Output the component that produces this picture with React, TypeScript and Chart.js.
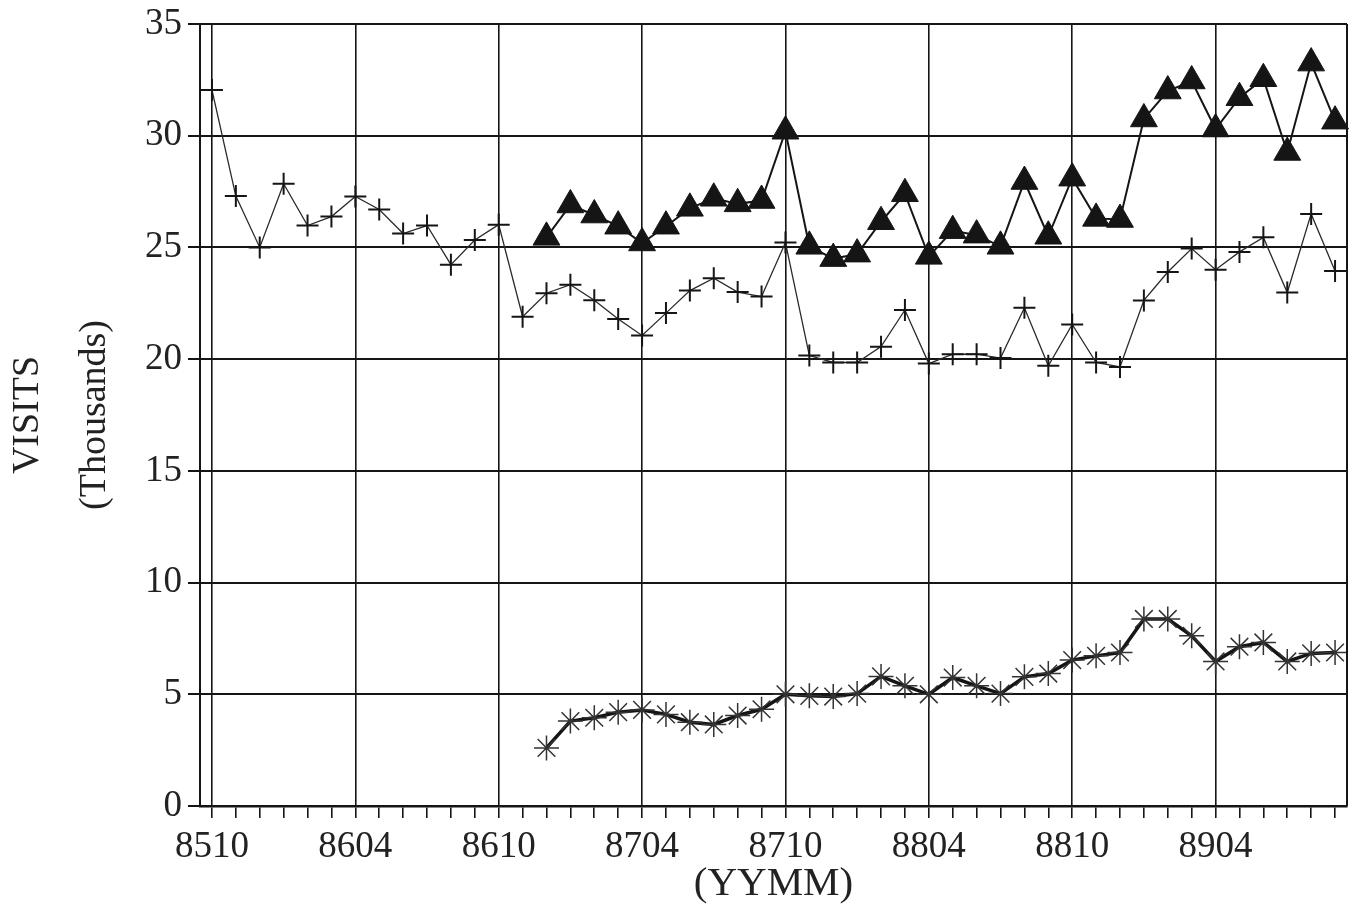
import React, { useEffect, useRef } from 'react';
import { Chart, registerables } from 'chart.js';

Chart.register(...registerables);

const months = [
  '8510', '8511', '8512', '8601', '8602', '8603', '8604', '8605', '8606', '8607', '8608', '8609',
  '8610', '8611', '8612', '8701', '8702', '8703', '8704', '8705', '8706', '8707', '8708', '8709',
  '8710', '8711', '8712', '8801', '8802', '8803', '8804', '8805', '8806', '8807', '8808', '8809',
  '8810', '8811', '8812', '8901', '8902', '8903', '8904', '8905', '8906', '8907', '8908', '8909',
];

const tickLabels = ['8510', '8604', '8610', '8704', '8710', '8804', '8810', '8904'];

const yTicks = [0, 5, 10, 15, 20, 25, 30, 35];

const plusSeries = [
  32.05, 27.3, 25.0, 27.85, 25.98, 26.38, 27.28, 26.7, 25.62, 25.98, 24.23, 25.33,
  26.02, 21.9, 22.95, 23.33, 22.64, 21.8, 21.06, 22.06, 23.07, 23.62, 23.0, 22.8,
  25.22, 20.16, 19.85, 19.85, 20.56, 22.2, 19.8, 20.22, 20.22, 20.05, 22.3, 19.7,
  21.55, 19.85, 19.65, 22.63, 23.9, 24.95, 24.0, 24.8, 25.45, 22.98, 26.5, 23.95,
];

const triangleSeries = [
  null, null, null, null, null, null, null, null, null, null, null, null,
  null, null, 25.45, 26.9, 26.45, 25.95, 25.2, 25.95, 26.75, 27.2, 26.95, 27.1,
  30.2, 25.05, 24.5, 24.7, 26.15, 27.4, 24.6, 25.75, 25.55, 25.05, 27.95, 25.5,
  28.1, 26.3, 26.25, 30.75, 32.0, 32.45, 30.3, 31.7, 32.55, 29.25, 33.25, 30.65,
];

const asteriskSeries = [
  null, null, null, null, null, null, null, null, null, null, null, null,
  null, null, 2.6, 3.8, 3.95, 4.2, 4.3, 4.1, 3.75, 3.65, 4.05, 4.33,
  5.0, 4.93, 4.9, 5.03, 5.8, 5.38, 5.0, 5.75, 5.38, 5.03, 5.78, 5.93,
  6.53, 6.72, 6.87, 8.37, 8.37, 7.62, 6.47, 7.13, 7.32, 6.47, 6.83, 6.87,
];

const FONT = "'Liberation Serif', 'Times New Roman', serif";
const INK = '#151515';

const framePlugin = {
  id: 'frame',
  afterDraw(chart: any) {
    const { ctx, chartArea } = chart;
    ctx.save();
    ctx.strokeStyle = INK;
    ctx.lineWidth = 2;
    ctx.beginPath();
    ctx.moveTo(chartArea.right, chartArea.top);
    ctx.lineTo(chartArea.right, chartArea.bottom);
    ctx.stroke();
    ctx.restore();
  },
};

export default function App() {
  const ref = useRef<HTMLCanvasElement>(null);

  useEffect(() => {
    if (!ref.current) return;
    const chart = new Chart(ref.current, {
      type: 'line',
      data: {
        labels: months,
        datasets: [
          {
            label: 'Triangles',
            data: triangleSeries,
            borderColor: INK,
            backgroundColor: INK,
            borderWidth: 2,
            pointStyle: 'triangle',
            pointRadius: 15.5,
            pointBorderWidth: 1,
            pointBackgroundColor: INK,
            pointBorderColor: INK,
            tension: 0,
            spanGaps: false,
          },
          {
            label: 'Plus',
            data: plusSeries,
            borderColor: '#2a2a2a',
            borderWidth: 1.3,
            pointStyle: 'cross',
            pointRadius: 11,
            pointBorderWidth: 2,
            pointBorderColor: INK,
            tension: 0,
          },
          {
            label: 'Asterisk',
            data: asteriskSeries,
            borderColor: INK,
            borderWidth: 3.5,
            pointStyle: 'star',
            pointRadius: 12.5,
            pointBorderWidth: 1.5,
            pointBorderColor: '#333',
            tension: 0,
          },
        ],
      },
      options: {
        animation: false,
        responsive: false,
        maintainAspectRatio: false,
        layout: { autoPadding: false, padding: { top: 24, right: 9, left: 0, bottom: 0 } },
        plugins: {
          legend: { display: false },
          tooltip: { enabled: false },
        },
        scales: {
          x: {
            type: 'category',
            offset: true,
            grid: {
              offset: false,
              color: (c: any) => (tickLabels.includes(months[c.index]) ? INK : 'rgba(0,0,0,0)'),
              tickColor: INK,
              lineWidth: 1.6,
              tickLength: 12,
              drawTicks: true,
            },
            border: { color: INK, width: 2.5 },
            ticks: {
              autoSkip: false,
              maxRotation: 0,
              minRotation: 0,
              padding: 7,
              color: '#222',
              font: { family: FONT, size: 37 },
              callback: (_v: any, i: number) => (tickLabels.includes(months[i]) ? months[i] : ''),
            },
            title: {
              display: true,
              text: '(YYMM)',
              color: '#222',
              font: { family: FONT, size: 41 },
              padding: { top: 0, bottom: 1 },
            },
            afterFit: (s: any) => {
              s.height = 104;
            },
          },
          y: {
            min: 0,
            max: 35,
            afterBuildTicks: (s: any) => {
              s.ticks = yTicks.map((v) => ({ value: v }));
            },
            grid: {
              color: INK,
              lineWidth: 2,
              tickLength: 12,
            },
            border: { color: INK, width: 2 },
            ticks: {
              padding: 6,
              color: '#222',
              font: { family: FONT, size: 37, lineHeight: 0.95 },
            },
            title: {
              display: true,
              text: ['VISITS', '(Thousands)'],
              color: '#222',
              font: { family: FONT, size: 38, lineHeight: '67px' },
              padding: { top: -5, bottom: 0 },
            },
            afterFit: (s: any) => {
              s.width = 200;
            },
          },
        },
      },
      plugins: [framePlugin],
    });
    return () => chart.destroy();
  }, []);

  return (
    <div style={{ position: 'fixed', left: 0, top: 0, width: 1356, height: 910, background: '#fff' }}>
      <canvas ref={ref} width={1356} height={910} style={{ width: 1356, height: 910, display: 'block' }} />
    </div>
  );
}
